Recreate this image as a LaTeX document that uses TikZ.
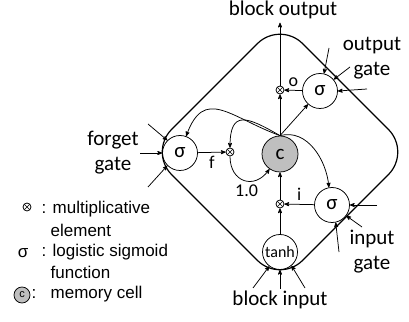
\documentclass[tikz,border=0pt]{standalone}
\usepackage{fontspec}
\setmainfont{Carlito}
\newfontfamily\legfont{Liberation Sans}
\usepackage{tikz}
\usetikzlibrary{arrows}

\begin{document}
\begin{tikzpicture}[x=1pt,y=1pt,line width=0.75pt,
  gate/.style={circle,draw,minimum size=35pt,inner sep=0pt,font=\fontsize{21}{25}\selectfont},
  mult/.style={circle,draw,minimum size=8pt,inner sep=0pt,
    path picture={\draw[line width=0.5pt] (path picture bounding box.north west) -- (path picture bounding box.south east)
      (path picture bounding box.north east) -- (path picture bounding box.south west);}},
  lbl/.style={font=\fontsize{21}{25}\selectfont,align=center},
  leg/.style={font=\legfont\fontsize{17}{20}\selectfont,anchor=west}]
\useasboundingbox (0,0) rectangle (409,321);

% memory block
\draw[line width=1.2pt,rounded corners=32pt] (214.5,234.5) -- (280,300) -- (411,169) -- (280,38) -- (149,169) -- cycle;

\node[gate]                (fg) at (180,168) {σ};
\node[mult]                (fx) at (230,169) {};
\node[gate,fill=gray!50,minimum size=36pt] (c) at (280,167) {c};
\node[mult]                (ix) at (280,117) {};
\node[gate]                (ig) at (332,116) {σ};
\node[gate,font=\fontsize{16}{19}\selectfont] (th) at (280,69) {tanh};
\node[gate]                (og) at (320,230) {σ};
\node[mult]                (ox) at (280,231) {};

\node[lbl] (bo)  at (283,311) {block output};
\node[lbl] (bi)  at (280,21)  {block input};
\node[lbl] (ogl) at (372,263) {output\\gate};
\node[lbl] (fgl) at (113,168) {forget\\gate};
\node[lbl] (igl) at (372,69)  {input\\gate};

% gate inputs
\coordinate (fi1) at (148,197);
\coordinate (fi2) at (140,168);
\coordinate (fi3) at (148,134);
\coordinate (oi1) at (329,273);
\coordinate (oi2) at (350,254);
\coordinate (oi3) at (367,232);
\coordinate (ii1) at (377,116);
\coordinate (ii2) at (362,94);
\coordinate (ii3) at (339,69);
\coordinate (ti1) at (253,33);
\coordinate (ti2) at (280,32);
\coordinate (ti3) at (305,33);

\path[->,>=stealth',every node/.style={font=\fontsize{18}{22}\selectfont}]
  (fi1) edge (fg.135)
  (fi2) edge (fg.180)
  (fi3) edge (fg.225)
  (oi1) edge (og.77)
  (oi2) edge (og.40)
  (oi3) edge (og.0)
  (ii1) edge (ig.0)
  (ii2) edge (ig.-37)
  (ii3) edge (ig.-78)
  (ti1) edge (th.233)
  (ti2) edge (th.270)
  (ti3) edge (th.310)
  (fg) edge node[below] {f} (fx)
  (og) edge node[above] {o} (ox)
  (ig) edge node[above] {i} (ix)
  (th) edge (ix)
  (ix) edge (c)
  (c)  edge (ox)
  (ox) edge (bo.south -| ox)
  (c.north) edge (og)
  (c.north) edge[out=150,in=90,looseness=1.9] (fx)
  (c.north) edge[out=160,in=70,looseness=1.45] (fg)
  (c.north) edge[out=15,in=95] (ig.100)
  (fx) edge[out=270,in=235,looseness=1.6] node[below,pos=0.55] {1.0} (c);

% legend
\node[mult] (lx) at (27,114) {};
\node[leg] (lxt) at (38,112) {: multiplicative};
\node[leg] (lxe) at (47,91)  {element};
\node[leg,anchor=center] (ls) at (23,68) {σ};
\node[leg] (lst) at (38,69)  {: logistic sigmoid};
\node[leg] (lsf) at (47,49)  {function};
\node[circle,draw,fill=gray!50,minimum size=16pt,inner sep=0pt,font=\legfont\fontsize{11}{13}\selectfont] (lc) at (22,26) {c};
\node[leg] (lcc) at (28,27) {:};
\node[leg] (lct) at (47,27) {memory cell};

\end{tikzpicture}
\end{document}
